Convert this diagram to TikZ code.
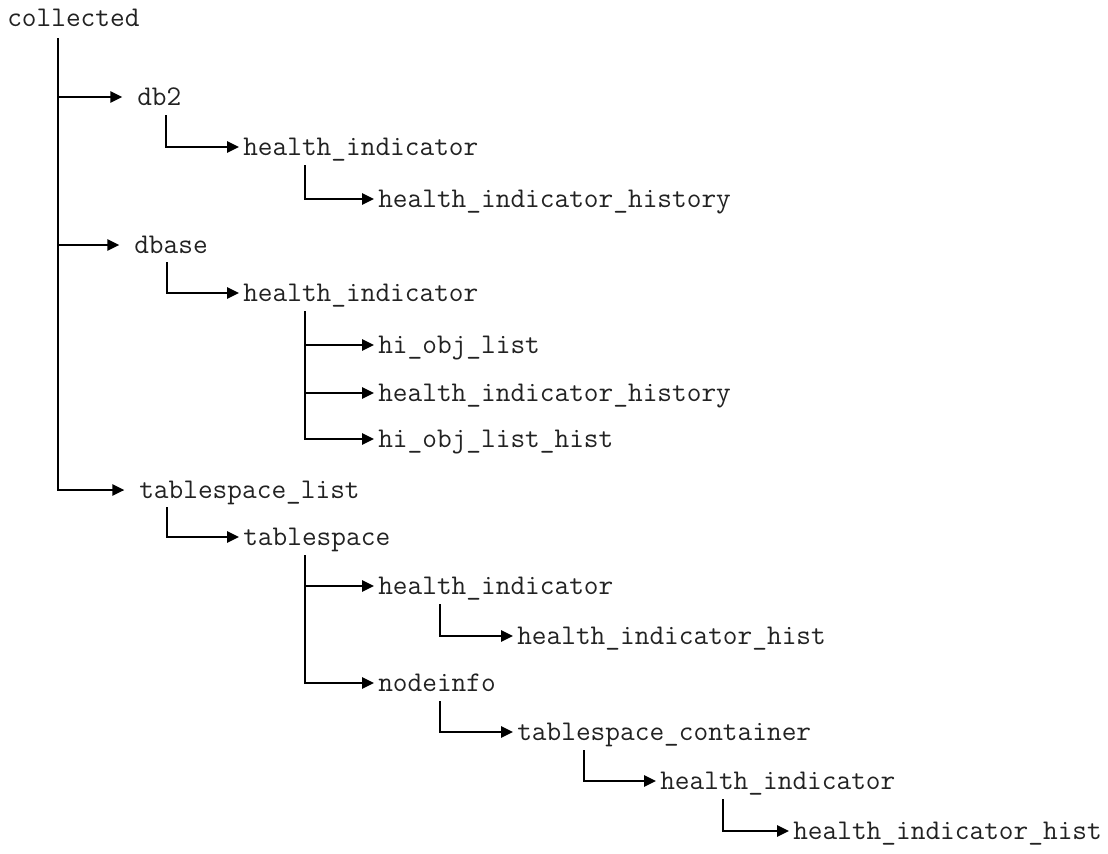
\documentclass[tikz,border=0pt]{standalone}
\usetikzlibrary{arrows.meta,calc}
\definecolor{txt}{HTML}{222222}
\tikzset{
  lbl/.style={anchor=west, inner sep=0pt, text height=13pt, text depth=0pt,
    text=txt, font=\fontsize{21.4}{25}\selectfont\ttfamily},
  arr/.style={draw=black, line width=1.4pt, -{Triangle[length=9pt,width=8.5pt]}, shorten >=3pt},
  arrl/.style={arr, shorten >=11pt},
}
\begin{document}
\begin{tikzpicture}[x=0.75pt,y=-0.75pt]
\useasboundingbox (0,0) rectangle (1108,854);
\node[lbl] (c) at (7,18) {collected};
\node[lbl] (db2) at (137,97) {db2};
\node[lbl] (hi1) at (243,147) {health\_indicator};
\node[lbl] (hih1) at (378,199) {health\_indicator\_history};
\node[lbl] (dbase) at (134,245) {dbase};
\node[lbl] (hi2) at (243,293) {health\_indicator};
\node[lbl] (hol) at (378,345) {hi\_obj\_list};
\node[lbl] (hih2) at (378,393) {health\_indicator\_history};
\node[lbl] (holh) at (378,439) {hi\_obj\_list\_hist};
\node[lbl] (tsl) at (139,490) {tablespace\_list};
\node[lbl] (ts) at (243,537) {tablespace};
\node[lbl] (hi3) at (378,586) {health\_indicator};
\node[lbl] (hist3) at (517,636) {health\_indicator\_hist};
\node[lbl] (ni) at (378,683) {nodeinfo};
\node[lbl] (tc) at (517,732) {tablespace\_container};
\node[lbl] (hi4) at (660,781) {health\_indicator};
\node[lbl] (hist4) at (793,831) {health\_indicator\_hist};

\coordinate (c0) at ($(c.west)+(51,20)$);
\draw[arrl] (c0) |- (db2.west);
\draw[arrl] (c0) |- (dbase.west);
\draw[arrl] (c0) |- (tsl.west);

\draw[arr] ($(db2.west)+(29,18)$) |- (hi1.west);
\draw[arr] ($(hi1.west)+(62,18)$) |- (hih1.west);

\draw[arr] ($(dbase.west)+(33,17)$) |- (hi2.west);
\coordinate (h2) at ($(hi2.west)+(62,18)$);
\draw[arr] (h2) |- (hol.west);
\draw[arr] (h2) |- (hih2.west);
\draw[arr] (h2) |- (holh.west);

\draw[arr] ($(tsl.west)+(28,17)$) |- (ts.west);
\coordinate (t2) at ($(ts.west)+(62,18)$);
\draw[arr] (t2) |- (hi3.west);
\draw[arr] (t2) |- (ni.west);
\draw[arr] ($(hi3.west)+(62,18)$) |- (hist3.west);
\draw[arr] ($(ni.west)+(62,18)$) |- (tc.west);
\draw[arr] ($(tc.west)+(67,18)$) |- (hi4.west);
\draw[arr] ($(hi4.west)+(63,18)$) |- (hist4.west);
\end{tikzpicture}
\end{document}
